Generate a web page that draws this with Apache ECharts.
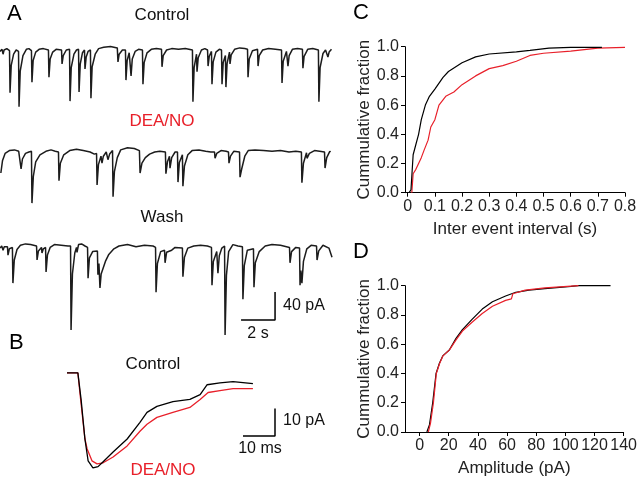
<!DOCTYPE html>
<html>
<head>
<meta charset="utf-8">
<script src="https://cdn.jsdelivr.net/npm/echarts@6/dist/echarts.min.js"></script>
<style>
html,body{margin:0;padding:0;background:#fff;}
#chart{width:640px;height:478px;}
</style>
</head>
<body>
<div id="chart"></div>
<script>
// ---------- Panel A: sample traces (time s, current pA) ----------
const controlTrace = [
[0.00,-2],[0.12,1],[0.18,-6],[0.24,0],[0.40,2],[0.56,-1],[0.59,-61],[0.66,-22],[0.80,-6],[0.95,0],
[1.09,-2],[1.12,-81],[1.19,-30],[1.35,-8],[1.55,1],[1.70,2],[1.85,-1],[1.88,-46],[1.95,-15],[2.10,-3],
[2.30,1],[2.55,2],[2.85,0],[2.88,-39],[2.95,-13],[3.10,-3],[3.30,1],[3.62,0],[3.65,-20],[3.72,-8],
[3.90,0],[4.09,1],[4.12,-73],[4.19,-25],[4.35,-6],[4.50,0],[4.62,1],[4.65,-60],[4.72,-20],[4.85,-4],
[4.97,0],[5.00,-27],[5.07,-10],[5.18,-2],[5.32,0],[5.35,-69],[5.42,-24],[5.60,-6],[5.80,2],[6.10,4],
[6.50,5],[6.90,3],[6.94,-17],[7.01,-6],[7.20,0],[7.38,0],[7.41,-43],[7.48,-15],[7.60,-4],[7.68,-2],
[7.71,-37],[7.78,-13],[7.95,-2],[8.15,1],[8.38,0],[8.41,-49],[8.48,-18],[8.65,-4],[8.90,1],[9.20,2],
[9.50,1],[9.53,-24],[9.60,-8],[9.80,0],[10.10,2],[10.50,1],[10.90,2],[11.32,0],[11.35,-74],[11.42,-25],
[11.56,-6],[11.59,-31],[11.66,-11],[11.85,0],[12.05,2],[12.21,0],[12.24,-23],[12.31,-9],[12.44,-2],[12.47,-49],
[12.54,-17],[12.70,-3],[12.90,1],[13.03,0],[13.06,-49],[13.13,-18],[13.26,-8],[13.29,-53],[13.36,-19],[13.50,-3],
[13.53,-20],[13.60,-7],[13.80,1],[14.10,3],[14.40,2],[14.56,1],[14.59,-39],[14.66,-13],[14.85,-1],[15.15,1],
[15.18,-23],[15.25,-8],[15.45,0],[15.80,2],[16.20,1],[16.56,0],[16.59,-47],[16.66,-16],[16.85,-2],[16.91,0],
[16.94,-23],[17.01,-8],[17.20,1],[17.50,2],[17.79,1],[17.82,-26],[17.89,-9],[18.10,1],[18.40,2],[18.73,0],
[18.76,-74],[18.83,-25],[19.00,-5],[19.15,0],[19.26,1],[19.29,-10],[19.36,-3],[19.50,1]
];
const deaTrace = [
[0.05,-30],[0.15,-12],[0.30,-2],[0.55,2],[0.85,3],[1.10,1],[1.21,0],[1.24,-24],[1.32,-10],[1.50,-2],
[1.70,0],[1.85,1],[1.88,-73],[1.96,-35],[2.10,-14],[2.35,-4],[2.70,1],[3.00,3],[3.25,1],[3.44,0],
[3.47,-41],[3.55,-16],[3.75,-4],[4.10,2],[4.50,4],[4.90,2],[5.30,0],[5.55,-3],[5.68,-2],[5.71,-47],
[5.79,-18],[5.94,-6],[6.00,-16],[6.08,-6],[6.25,0],[6.32,0],[6.35,-11],[6.45,-3],[6.62,2],[6.65,-64],
[6.73,-28],[6.90,-8],[7.10,3],[7.50,6],[7.90,5],[8.20,2],[8.24,-30],[8.35,-16],[8.55,-8],[8.80,-3],
[9.10,0],[9.40,1],[9.73,0],[9.76,-31],[9.85,-14],[9.97,-6],[10.00,-23],[10.10,-8],[10.30,0],[10.44,0],
[10.47,-43],[10.55,-15],[10.73,-4],[10.76,-49],[10.85,-20],[11.05,-4],[11.30,2],[11.70,3],[12.10,1],[12.40,0],
[12.62,0],[12.65,-9],[12.75,-2],[13.00,2],[13.30,1],[13.44,0],[13.47,-16],[13.56,-6],[13.75,1],[14.09,0],
[14.12,-36],[14.22,-24],[14.40,-6],[14.60,2],[15.00,3],[15.50,2],[16.00,1],[16.50,2],[17.00,0],[17.40,1],
[17.73,0],[17.76,-44],[17.85,-16],[18.03,-1],[18.06,-9],[18.20,-2],[18.50,2],[18.80,1],[19.09,0],[19.12,-23],
[19.22,-8],[19.40,1],[19.45,0]
];
const washTrace = [
[0.00,-3],[0.10,0],[0.18,-6],[0.25,-1],[0.44,-1],[0.47,-13],[0.55,-4],[0.73,-2],[0.76,-53],[0.84,-20],
[1.00,-5],[1.20,1],[1.50,3],[1.80,2],[2.15,0],[2.18,-20],[2.26,-7],[2.44,-2],[2.47,-10],[2.55,-4],
[2.68,-2],[2.71,-37],[2.79,-13],[2.95,-2],[3.20,2],[3.60,1],[4.00,0],[4.15,0],[4.18,-120],[4.26,-40],
[4.40,-10],[4.50,-2],[4.53,-9],[4.62,2],[4.80,3],[5.00,0],[5.15,-2],[5.18,-46],[5.26,-17],[5.45,-8],
[5.73,-7],[5.76,-41],[5.82,-25],[5.88,-60],[5.95,-40],[6.06,-39],[6.20,-22],[6.40,-12],[6.70,-4],[7.00,0],
[7.50,2],[8.00,-1],[8.50,1],[9.00,0],[9.15,-2],[9.18,-66],[9.26,-25],[9.45,-8],[9.68,-6],[9.71,-24],
[9.80,-9],[9.90,-7],[10.10,-6],[10.30,-2],[10.73,-3],[10.76,-44],[10.85,-16],[11.05,-3],[11.40,0],[11.80,1],
[12.20,0],[12.44,-2],[12.47,-56],[12.55,-22],[12.75,-8],[12.82,-39],[12.90,-14],[13.05,-3],[13.21,0],[13.24,-127],
[13.32,-42],[13.45,-8],[13.70,2],[14.00,0],[14.26,-1],[14.29,-76],[14.37,-28],[14.55,-6],[14.91,-4],[14.94,-59],
[15.02,-24],[15.25,-8],[15.60,0],[16.00,2],[16.50,1],[17.03,-2],[17.06,-24],[17.15,-8],[17.40,-2],[17.62,-3],
[17.65,-56],[17.70,-35],[17.76,-53],[17.85,-22],[18.05,-4],[18.30,1],[18.62,0],[18.65,-20],[18.75,-7],[19.00,1],
[19.35,-3],[19.53,-16]
];
// scale bar for A: start time, start current, length in s and pA
const scaleA = [14.18, -105.7, 2, 40];

// ---------- Panel B: averaged events (time ms, current pA) ----------
const avgControl = [
[0,0],[3.4,0],[4.4,-9.6],[5.6,-23.9],[6.6,-31.8],[8.1,-34.3],[9.7,-33.9],[11.3,-32.1],[14.4,-28.6],[18.8,-23.9],
[22.8,-17.9],[25.0,-14.3],[28.1,-12.1],[33.1,-10.4],[38.4,-9.6],[41.6,-7.9],[43.8,-4.3],[47.8,-3.6],[51.9,-3.2],[58.1,-3.9]
];
const avgDEA = [
[0,0],[3.4,0],[4.1,-7.9],[5.6,-23.9],[6.3,-27.5],[7.8,-31.8],[9.4,-32.9],[11.3,-32.5],[14.4,-30.4],[18.8,-26.4],
[22.8,-21.1],[25.0,-18.6],[28.1,-16.1],[33.1,-14.3],[38.4,-12.5],[41.6,-9.6],[44.1,-7.1],[47.8,-6.4],[51.9,-5.7],[58.1,-5.7]
];
// scale bar for B: start time, start current, length in ms and pA
const scaleB = [55, -22.86, 10, 10];

// ---------- Panel C: inter-event interval cumulative ----------
const ieiControl = [
[0.005,0],[0.012,0.02],[0.02,0.26],[0.03,0.33],[0.04,0.40],[0.05,0.50],[0.065,0.60],[0.08,0.66],[0.1,0.71],
[0.13,0.79],[0.15,0.83],[0.2,0.89],[0.25,0.93],[0.3,0.95],[0.4,0.965],[0.45,0.975],[0.52,0.99],[0.6,0.995],[0.715,0.995]
];
const ieiDEA = [
[0.015,0],[0.02,0.13],[0.03,0.16],[0.05,0.24],[0.06,0.29],[0.075,0.36],[0.085,0.45],[0.1,0.50],[0.115,0.60],
[0.14,0.66],[0.17,0.69],[0.2,0.74],[0.25,0.80],[0.3,0.85],[0.35,0.87],[0.4,0.90],[0.45,0.94],[0.5,0.955],
[0.6,0.97],[0.7,0.99],[0.8,0.995]
];
const cXTicks = [0,0.1,0.2,0.3,0.4,0.5,0.6,0.7,0.8];

// ---------- Panel D: amplitude cumulative ----------
const ampControl = [
[5,0],[6.8,0.05],[9,0.2],[11.3,0.4],[13.6,0.47],[15.9,0.52],[20.4,0.56],[25,0.64],[29.4,0.70],[36,0.77],
[43,0.84],[50,0.89],[59,0.93],[66,0.955],[75,0.97],[86,0.98],[104,0.995],[109,1.0],[131,1.0]
];
const ampDEA = [
[6,0],[7.5,0.06],[9.5,0.2],[11.5,0.4],[13.8,0.47],[16,0.52],[20.4,0.56],[25,0.63],[29.4,0.69],[36,0.75],
[43,0.81],[50,0.86],[59,0.90],[63,0.91],[64,0.945],[72.5,0.97],[86,0.985],[109,1.0]
];
const dXTicks = [0,20,40,60,80,100,120,140];

const FONT = '"Liberation Sans", Arial, sans-serif';
const RED = '#e8202a';
const TRACE = '#1c1c1c';

function scaleBar(s){
  return [[s[0], s[1]], [s[0]+s[2], s[1]], [s[0]+s[2], s[1]+s[3]]];
}

const chart = echarts.init(document.getElementById('chart'), null, {renderer:'canvas'});

function hiddenX(g, min, max){ return {type:'value', gridIndex:g, min:min, max:max, show:false}; }
function hiddenY(g, min, max){ return {type:'value', gridIndex:g, min:min, max:max, show:false}; }

const axisCommon = {
  axisLine:{show:true, onZero:false, lineStyle:{color:'#000', width:1}},
  splitLine:{show:false},
  nameLocation:'middle',
  nameTextStyle:{fontFamily:FONT, fontSize:17, color:'#222'}
};

function lineSeries(x, y, data, color, w){
  return {type:'line', xAxisIndex:x, yAxisIndex:y, data:data, showSymbol:false, symbol:'none',
    lineStyle:{color:color, width:w}, itemStyle:{color:color}, animation:false, silent:true, clip:false};
}

const option = {
  backgroundColor:'#fff',
  animation:false,
  grid:[
    {left:0, top:36, width:332, height:105},
    {left:0, top:138, width:332, height:105},
    {left:0, top:232, width:332, height:105},
    {left:67, top:359, width:224, height:120.4},
    {left:405, top:46.7, width:220, height:146},
    {left:405, top:285.7, width:221, height:146.6}
  ],
  xAxis:[
    hiddenX(0,0,19.53), hiddenX(1,0,19.53), hiddenX(2,0,19.53), hiddenX(3,0,70),
    Object.assign({}, axisCommon, {type:'value', gridIndex:4, min:-0.01, max:0.8,
      axisTick:{show:true, customValues:cXTicks, length:4, lineStyle:{color:'#000'}},
      axisLabel:{customValues:cXTicks, margin:6, fontSize:16, color:'#222', fontFamily:FONT,
        formatter:function(v){ return v===0 ? '0' : v.toFixed(1); }},
      name:'Inter event interval (s)', nameGap:28}),
    Object.assign({}, axisCommon, {type:'value', gridIndex:5, min:-10, max:140,
      axisTick:{show:true, customValues:dXTicks, length:4, lineStyle:{color:'#000'}},
      axisLabel:{customValues:dXTicks, margin:6, fontSize:16, color:'#222', fontFamily:FONT},
      name:'Amplitude (pA)', nameGap:28})
  ],
  yAxis:[
    hiddenY(0,-130,20), hiddenY(1,-130,20), hiddenY(2,-130,20), hiddenY(3,-38,5),
    Object.assign({}, axisCommon, {type:'value', gridIndex:4, min:0, max:1, interval:0.2,
      axisTick:{show:true, length:4, lineStyle:{color:'#000'}},
      axisLabel:{margin:6, fontSize:16, color:'#222', fontFamily:FONT, formatter:function(v){return v.toFixed(1);}},
      name:'Cummulative fraction', nameGap:30}),
    Object.assign({}, axisCommon, {type:'value', gridIndex:5, min:0, max:1, interval:0.2,
      axisTick:{show:true, length:4, lineStyle:{color:'#000'}},
      axisLabel:{margin:6, fontSize:16, color:'#222', fontFamily:FONT, formatter:function(v){return v.toFixed(1);}},
      name:'Cummulative fraction', nameGap:30})
  ],
  series:[
    lineSeries(0,0,controlTrace,TRACE,1.5),
    lineSeries(1,1,deaTrace,TRACE,1.5),
    lineSeries(2,2,washTrace,TRACE,1.5),
    lineSeries(2,2,scaleBar(scaleA),'#000',1.5),
    lineSeries(3,3,avgDEA,RED,1.3),
    lineSeries(3,3,avgControl,'#000',1.3),
    lineSeries(3,3,scaleBar(scaleB),'#000',1.5),
    lineSeries(4,4,ieiDEA,RED,1.2),
    lineSeries(4,4,ieiControl,'#000',1.2),
    lineSeries(5,5,ampControl,'#000',1.2),
    lineSeries(5,5,ampDEA,RED,1.2)
  ],
  graphic:[
    {type:'text', left:7, top:3, style:{text:'A', font:'22px '+FONT, fill:'#000'}},
    {type:'text', left:9, top:332, style:{text:'B', font:'22px '+FONT, fill:'#000'}},
    {type:'text', left:353, top:2, style:{text:'C', font:'22px '+FONT, fill:'#000'}},
    {type:'text', left:353, top:241, style:{text:'D', font:'22px '+FONT, fill:'#000'}},
    {type:'text', x:162, y:15, style:{text:'Control', font:'17px '+FONT, fill:'#111', align:'center', verticalAlign:'middle'}},
    {type:'text', x:162, y:121, style:{text:'DEA/NO', font:'17px '+FONT, fill:RED, align:'center', verticalAlign:'middle'}},
    {type:'text', x:162, y:217, style:{text:'Wash', font:'17px '+FONT, fill:'#111', align:'center', verticalAlign:'middle'}},
    {type:'text', x:283, y:306, style:{text:'40 pA', font:'16px '+FONT, fill:'#111', align:'left', verticalAlign:'middle'}},
    {type:'text', x:258, y:334, style:{text:'2 s', font:'16px '+FONT, fill:'#111', align:'center', verticalAlign:'middle'}},
    {type:'text', x:153, y:364, style:{text:'Control', font:'17px '+FONT, fill:'#111', align:'center', verticalAlign:'middle'}},
    {type:'text', x:163, y:470, style:{text:'DEA/NO', font:'17px '+FONT, fill:RED, align:'center', verticalAlign:'middle'}},
    {type:'text', x:283, y:421, style:{text:'10 pA', font:'16px '+FONT, fill:'#111', align:'left', verticalAlign:'middle'}},
    {type:'text', x:260, y:449, style:{text:'10 ms', font:'16px '+FONT, fill:'#111', align:'center', verticalAlign:'middle'}}
  ]
};
chart.setOption(option);
</script>
</body>
</html>
